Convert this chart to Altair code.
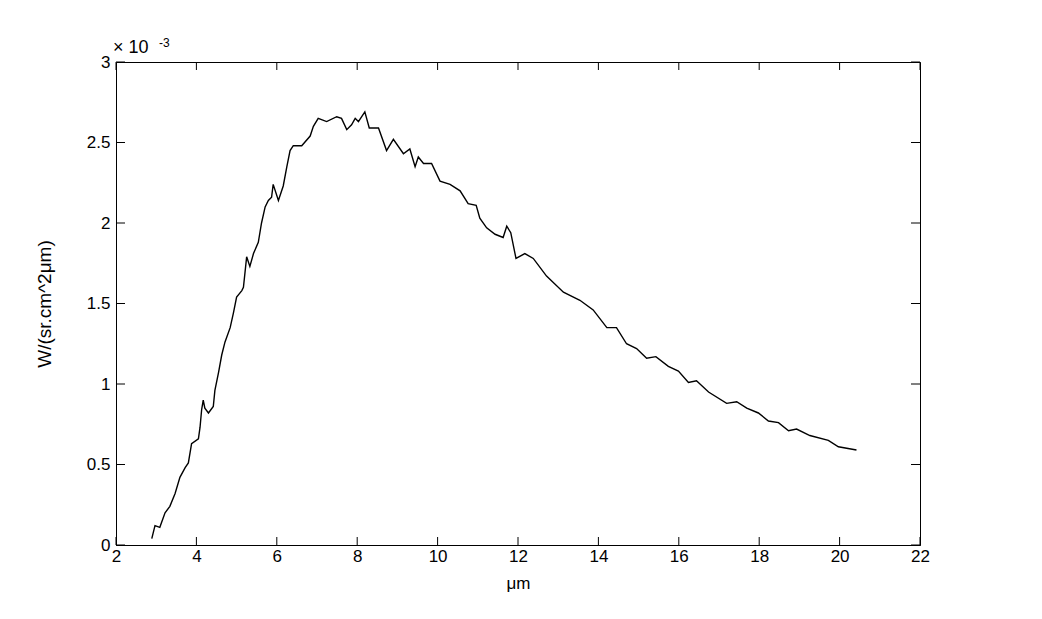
import altair as alt
import pandas as pd

# wavelength (μm)
wavelength = [2.89, 2.97, 3.09, 3.22, 3.34, 3.47, 3.59, 3.72, 3.80, 3.88, 4.05, 4.09, 4.13, 4.17,
              4.21, 4.30, 4.42, 4.46, 4.55, 4.63, 4.71, 4.84, 4.92, 5.00, 5.13, 5.17, 5.25, 5.33,
              5.42, 5.54, 5.62, 5.71, 5.79, 5.87, 5.91, 6.04, 6.16, 6.25, 6.33, 6.41, 6.62, 6.83,
              6.91, 7.03, 7.24, 7.49, 7.61, 7.74, 7.86, 7.95, 8.03, 8.19, 8.30, 8.53, 8.73, 8.90,
              9.15, 9.31, 9.44, 9.52, 9.65, 9.85, 10.06, 10.31, 10.56, 10.76, 10.96, 11.05, 11.22,
              11.43, 11.63, 11.72, 11.82, 11.95, 12.17, 12.38, 12.71, 13.13, 13.54, 13.87, 14.21,
              14.45, 14.70, 14.95, 15.20, 15.43, 15.74, 15.99, 16.24, 16.44, 16.74, 17.19, 17.44,
              17.69, 17.98, 18.23, 18.48, 18.73, 18.93, 19.26, 19.72, 19.97, 20.42]
# radiance in units of 1e-3 W/(sr.cm^2 μm)
radiance = [0.04, 0.12, 0.11, 0.20, 0.24, 0.32, 0.42, 0.48, 0.51, 0.63, 0.66, 0.73, 0.84, 0.90,
            0.85, 0.82, 0.86, 0.96, 1.07, 1.18, 1.26, 1.35, 1.44, 1.54, 1.58, 1.60, 1.79, 1.73,
            1.81, 1.88, 2.00, 2.10, 2.14, 2.16, 2.24, 2.14, 2.23, 2.35, 2.45, 2.48, 2.48, 2.54,
            2.60, 2.65, 2.63, 2.66, 2.65, 2.58, 2.61, 2.65, 2.63, 2.69, 2.59, 2.59, 2.45, 2.52,
            2.43, 2.46, 2.35, 2.41, 2.37, 2.37, 2.26, 2.24, 2.20, 2.12, 2.11, 2.03, 1.97,
            1.93, 1.91, 1.98, 1.94, 1.78, 1.81, 1.78, 1.67, 1.57, 1.52, 1.46, 1.35,
            1.35, 1.25, 1.22, 1.16, 1.17, 1.11, 1.08, 1.01, 1.02, 0.95, 0.88, 0.89,
            0.85, 0.82, 0.77, 0.76, 0.71, 0.72, 0.68, 0.65, 0.61, 0.59]

x_ticks = [2, 4, 6, 8, 10, 12, 14, 16, 18, 20, 22]
y_ticks = [0, 0.5, 1, 1.5, 2, 2.5, 3]

W, H = 804, 483
FONT = "Liberation Sans"

df = pd.DataFrame({"wl": wavelength, "rad": radiance})
xs = alt.Scale(domain=[2, 22], nice=False, zero=False)
ys = alt.Scale(domain=[0, 3], nice=False, zero=True)

line = alt.Chart(df).mark_line(color="black", strokeWidth=1.4).encode(
    x=alt.X("wl:Q", scale=xs, axis=alt.Axis(
        values=x_ticks, format="~g", title="μm", titleX=W / 2, titleY=30,
        titleFontWeight="normal", titleFontSize=17, titleFont=FONT, titleColor="black",
        labelFont=FONT, labelFontSize=17, labelColor="black", labelPadding=3,
        tickSize=0, domainColor="black", grid=False, labelFlush=False)),
    y=alt.Y("rad:Q", scale=ys, axis=alt.Axis(
        values=y_ticks, format="~g", title="W/(sr.cm^2μm)", titleX=-62, titleY=H / 2,
        titleAngle=270, titleFontWeight="normal", titleFontSize=19, titleFont=FONT,
        titleColor="black", titleAlign="center", titleBaseline="bottom",
        labelFont=FONT, labelFontSize=17, labelColor="black", labelPadding=6,
        tickSize=0, domainColor="black", grid=False, labelFlush=False)),
)

xt = pd.DataFrame({"wl": x_ticks})
yt = pd.DataFrame({"rad": y_ticks})
tick_bottom = alt.Chart(xt).mark_rule(color="black").encode(
    x=alt.X("wl:Q", scale=xs), y=alt.value(H), y2=alt.value(H - 8))
tick_top = alt.Chart(xt).mark_rule(color="black").encode(
    x=alt.X("wl:Q", scale=xs), y=alt.value(0), y2=alt.value(8))
tick_left = alt.Chart(yt).mark_rule(color="black").encode(
    y=alt.Y("rad:Q", scale=ys), x=alt.value(0), x2=alt.value(9))
tick_right = alt.Chart(yt).mark_rule(color="black").encode(
    y=alt.Y("rad:Q", scale=ys), x=alt.value(W), x2=alt.value(W - 9))

exp_base = alt.Chart(pd.DataFrame({"t": ["× 10"]})).mark_text(
    align="left", baseline="middle", font=FONT, fontSize=18, color="black").encode(
    text="t:N", x=alt.value(-3), y=alt.value(-14))
exp_pow = alt.Chart(pd.DataFrame({"t": ["-3"]})).mark_text(
    align="left", baseline="middle", font=FONT, fontSize=12, color="black").encode(
    text="t:N", x=alt.value(43), y=alt.value(-19))

chart = alt.layer(line, tick_bottom, tick_top, tick_left, tick_right, exp_base, exp_pow).properties(
    width=W, height=H,
    autosize=alt.AutoSizeParams(type="none"),
    padding={"left": 108, "top": 54, "right": 114, "bottom": 66},
    background="white",
).configure_view(stroke="black", strokeWidth=1)

chart.save("out.html", embed_options={"renderer": "svg", "actions": False})
